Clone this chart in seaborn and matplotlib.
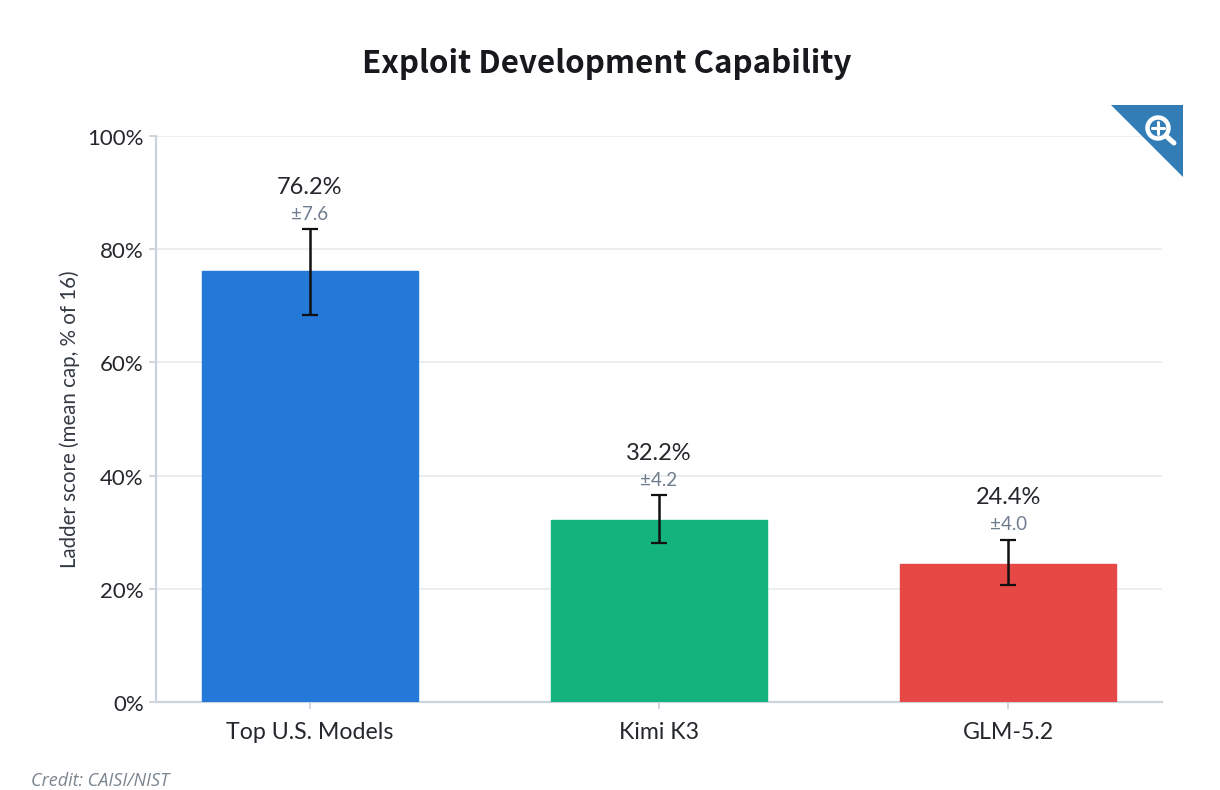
import matplotlib
matplotlib.use("Agg")
import matplotlib.pyplot as plt
import pandas as pd
import seaborn as sns
from matplotlib.patches import Circle, Polygon
from matplotlib.transforms import Affine2D

models = ["Top U.S. Models", "Kimi K3", "GLM-5.2"]
scores = [76.2, 32.2, 24.4]
errors = [7.6, 4.2, 4.0]
# whisker centres as they sit in the picture, slightly off the bar tops
err_mid = [75.9, 32.3, 24.6]
colors = ["#2478d8", "#14b27c", "#e64845"]
y_ticks = [0, 20, 40, 60, 80, 100]

W, H = 1220, 790

sns.set_theme(style="white")
plt.rcParams["font.family"] = ["Lato", "DejaVu Sans"]

df = pd.DataFrame({"model": models, "score": scores})

fig = plt.figure(figsize=(W / 100, H / 100), dpi=100, facecolor="white")
ax = fig.add_axes([156 / W, 1 - 702 / H, (1162 - 156) / W, (702 - 136) / H])

sns.barplot(data=df, x="model", y="score", hue="model", palette=colors,
            width=0.618, legend=False, saturation=1, ax=ax, zorder=3)
for bar in ax.patches:
    bar.set_edgecolor(bar.get_facecolor())
    bar.set_linewidth(1)
ax.errorbar(range(len(models)), err_mid, yerr=errors, fmt="none", ecolor="#111111",
            elinewidth=1.8, capsize=5.8, capthick=1.6, zorder=4)

ax.set_xlim(-0.441, 2.441)
ax.set_ylim(0, 100)
ax.set_yticks(y_ticks)
ax.set_yticklabels([f"{t}%" for t in y_ticks], va="center")
ax.set_xlabel("")
ax.set_ylabel("Ladder score (mean cap, % of 16)", fontsize=14.8, color="#333a44", labelpad=5)
ax.grid(axis="y", color="#e9edf0", linewidth=1.3, zorder=0)
ax.grid(axis="x", visible=False)
ax.set_axisbelow(True)

for name in ["top", "right"]:
    ax.spines[name].set_visible(False)
for name in ["left", "bottom"]:
    ax.spines[name].set_color("#cbd3dc")
    ax.spines[name].set_linewidth(1.6)

ax.tick_params(axis="both", bottom=True, left=True, length=5, width=1.3,
               color="#cbd3dc", labelcolor="#24272c")
ax.tick_params(axis="x", labelsize=16.7, pad=9.7)
ax.tick_params(axis="y", labelsize=16, pad=3.8)
# labels sit a little under their ticks in the original
for lab in ax.get_yticklabels():
    lab.set_transform(lab.get_transform() + Affine2D().translate(0, -3))

for i, (m, e) in enumerate(zip(err_mid, errors)):
    top = m + e
    ax.annotate(f"{scores[i]}%", (i, top), xytext=(0, 30.5), textcoords="offset points",
                ha="center", va="center", fontsize=17, color="#24272c")
    ax.annotate(f"±{e}", (i, top), xytext=(0, 11), textcoords="offset points",
                ha="center", va="center", fontsize=13.5, color="#6f7c8e")

fig.text(607 / W, 1 - 64 / H, "Exploit Development Capability", ha="center", va="center",
         fontsize=22.5, fontweight="bold", family="Noto Sans CJK SC", color="#17191c")
fig.text(31 / W, 1 - 781.5 / H, "Credit: CAISI/NIST", ha="left", va="center",
         fontsize=13, style="italic", family="Open Sans", color="#7b8590")

# corner zoom badge, in pixels from top left
px = Affine2D().scale(1, -1).translate(0, H)
fig.add_artist(Polygon([(1111, 105), (1183, 105), (1183, 177)], closed=True,
                       facecolor="#337db7", edgecolor="none", transform=px))
fig.add_artist(Circle((1158, 128), 10.5, facecolor="none", edgecolor="white",
                      linewidth=3.2, transform=px))
for xs, ys, lw in [([1166, 1174], [136, 143], 3.6),
                   ([1152, 1164], [128, 128], 2.2),
                   ([1158, 1158], [122, 134], 2.2)]:
    fig.add_artist(plt.Line2D(xs, ys, color="white", linewidth=lw, transform=px))

fig.savefig("out.png", dpi=100, facecolor="white")
